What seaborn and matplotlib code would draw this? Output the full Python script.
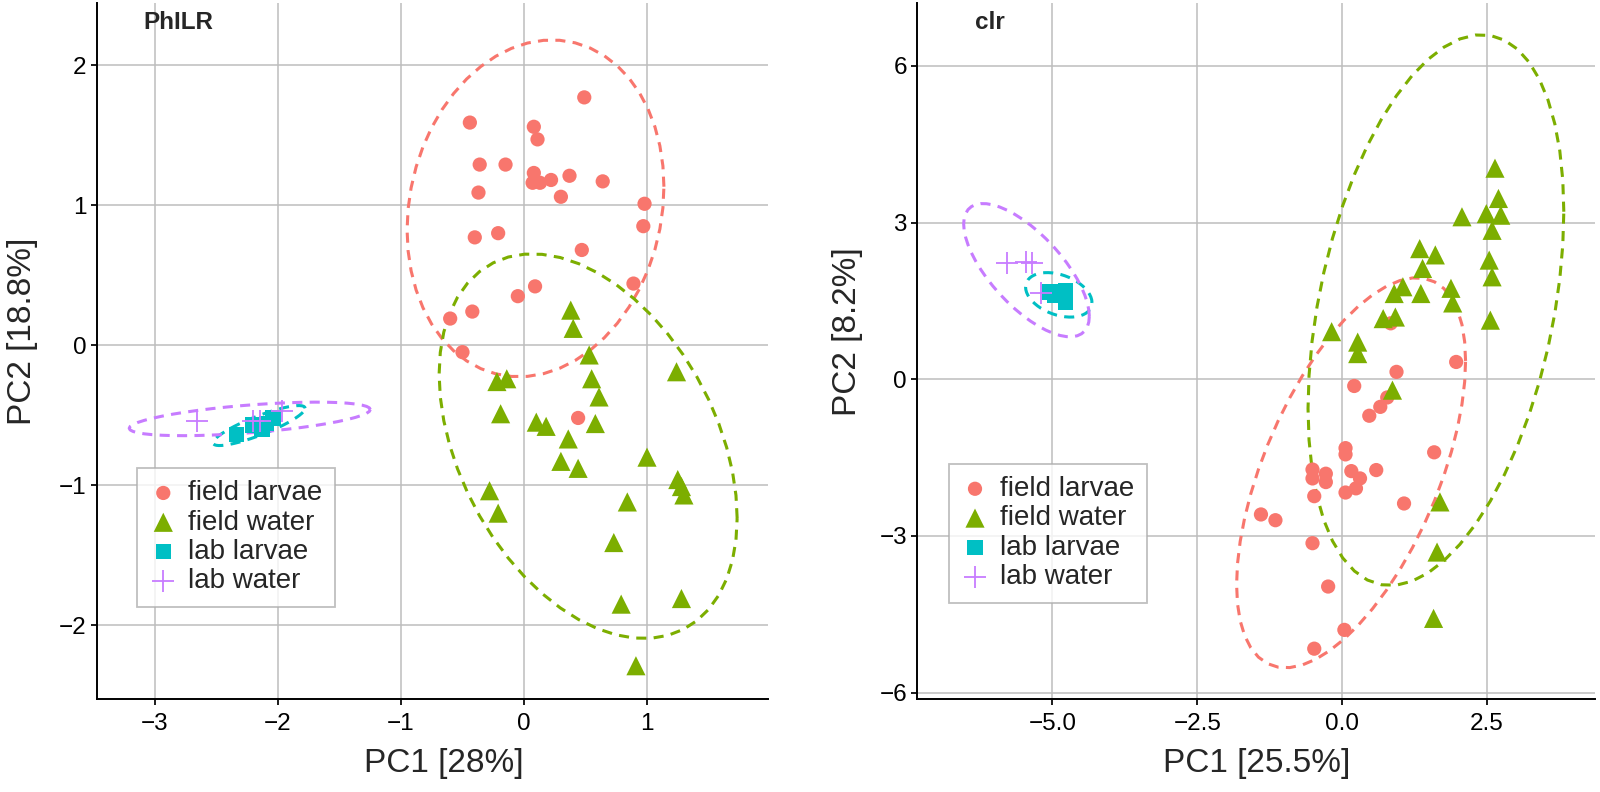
import numpy as np
import pandas as pd
import seaborn as sns
import matplotlib.pyplot as plt

# ---- PhILR panel ----
philr_fl_x = [0.49, -0.44, 0.08, 0.11, -0.36, -0.15, 0.08, 0.07, 0.13, 0.22, 0.37, 0.64, -0.37,
              0.30, 0.98, 0.97, -0.40, -0.21, 0.47, 0.89, 0.09, -0.05, -0.42, -0.60, -0.50, 0.44]
philr_fl_y = [1.77, 1.59, 1.56, 1.47, 1.29, 1.29, 1.23, 1.16, 1.16, 1.18, 1.21, 1.17, 1.09,
              1.06, 1.01, 0.85, 0.77, 0.80, 0.68, 0.44, 0.42, 0.35, 0.24, 0.19, -0.05, -0.52]
philr_fw_x = [0.38, 0.40, 0.53, -0.22, -0.14, 0.55, 0.61, 1.24, -0.19, 0.10, 0.18, 0.58, 0.36,
              0.30, 0.44, 1.00, 1.25, 1.28, 1.30, -0.28, -0.21, 0.84, 0.73, 0.79, 1.28, 0.91]
philr_fw_y = [0.25, 0.12, -0.07, -0.26, -0.24, -0.24, -0.37, -0.19, -0.49, -0.55, -0.58, -0.56, -0.67,
              -0.83, -0.88, -0.80, -0.96, -1.01, -1.07, -1.04, -1.20, -1.12, -1.41, -1.85, -1.81, -2.29]
philr_ll_x = [-2.34, -2.21, -2.13, -2.09, -2.04]
philr_ll_y = [-0.64, -0.57, -0.60, -0.56, -0.52]
philr_lw_x = [-2.66, -2.20, -2.15, -1.97]
philr_lw_y = [-0.54, -0.54, -0.54, -0.47]

# ---- clr panel ----
clr_fl_x = [0.84, 1.97, 0.94, 0.21, 0.78, 0.66, 0.47, 0.06, 0.06, 1.59, -0.51, -0.51, -0.28, -0.28,
            0.16, 0.31, 0.24, 0.06, 0.59, 1.07, -0.48, -1.40, -1.15, -0.51, -0.24, 0.04, -0.48]
clr_fl_y = [1.07, 0.33, 0.14, -0.13, -0.35, -0.53, -0.70, -1.32, -1.44, -1.40, -1.73, -1.90, -1.81, -1.97,
            -1.76, -1.90, -2.09, -2.17, -1.74, -2.38, -2.24, -2.59, -2.70, -3.14, -3.97, -4.80, -5.16]
clr_fw_x = [2.64, 2.70, 2.74, 2.49, 2.07, 2.59, 2.54, 2.59, 2.56, 1.34, 1.61, 1.39, 1.05, 0.90,
            1.36, 1.88, 1.91, 0.71, 0.92, -0.18, 0.27, 0.27, 0.87, 1.69, 1.64, 1.58]
clr_fw_y = [4.04, 3.46, 3.14, 3.17, 3.11, 2.85, 2.28, 1.96, 1.13, 2.50, 2.38, 2.12, 1.77, 1.64,
            1.64, 1.74, 1.46, 1.16, 1.19, 0.91, 0.71, 0.49, -0.21, -2.35, -3.31, -4.58]
clr_ll_x = [-5.04, -4.96, -4.78, -4.78]
clr_ll_y = [1.67, 1.61, 1.70, 1.48]
clr_lw_x = [-5.78, -5.46, -5.36, -5.19]
clr_lw_y = [2.23, 2.25, 2.22, 1.65]

groups = ["field larvae", "field water", "lab larvae", "lab water"]
colors = ["#F8766D", "#7CAE00", "#00BFC4", "#C77CFF"]
markers = ["o", "^", "s", "+"]
sizes = [105, 190, 120, 260]


def make_df(xs, ys):
    rows = []
    for g, x, y in zip(groups, xs, ys):
        rows.append(pd.DataFrame({"PC1": x, "PC2": y, "group": g}))
    return pd.concat(rows, ignore_index=True)


def cov_trob(pts, nu=5, maxit=25, tol=0.01):
    # robust t covariance, same scheme as MASS::cov.trob
    n, p = pts.shape
    wt = np.ones(n)
    loc = pts.mean(axis=0)
    w = np.sqrt(wt)
    for _ in range(maxit):
        w0 = w
        X = pts - loc
        _, d, vt = np.linalg.svd(np.sqrt(w / w.sum())[:, None] * X, full_matrices=False)
        wX = X @ vt.T / d
        Q = (wX ** 2).sum(axis=1)
        w = wt * (nu + p) / (nu + Q)
        loc = (w[:, None] * pts).sum(axis=0) / w.sum()
        if np.all(np.abs(w - w0) < tol):
            break
    cov = (np.sqrt(w)[:, None] * X).T @ (np.sqrt(w)[:, None] * X) / wt.sum()
    return loc, cov


def ellipse(x, y, kind="t", level=0.95, segments=51):
    pts = np.column_stack([x, y])
    n = len(x)
    if kind == "t":
        loc, cov = cov_trob(pts)
    else:
        loc, cov = pts.mean(axis=0), np.cov(pts.T)
    dfd = n - 1
    fq = dfd / 2 * ((1 - level) ** (-2 / dfd) - 1)  # qf(level, 2, dfd)
    r = np.sqrt(2 * fq)
    t = np.linspace(0, 2 * np.pi, segments)
    circ = np.column_stack([np.cos(t), np.sin(t)])
    chol = np.linalg.cholesky(cov).T
    return loc + r * circ @ chol


sns.set_theme(style="whitegrid")
plt.rcParams["font.family"] = ["Liberation Sans", "DejaVu Sans"]
plt.rcParams.update({
    "grid.color": "#bdbdbd", "grid.linewidth": 1.1,
    "axes.edgecolor": "black", "axes.linewidth": 1.4,
    "xtick.bottom": True, "ytick.left": True,
    "xtick.major.size": 4, "ytick.major.size": 4,
    "xtick.color": "black", "ytick.color": "black",
})

fig = plt.figure(figsize=(16, 7.92), dpi=100)
ax1 = fig.add_axes([0.0604, 0.117, 0.4194, 0.879])
ax2 = fig.add_axes([0.5734, 0.117, 0.4236, 0.879])

panels = [
    (ax1, make_df([philr_fl_x, philr_fw_x, philr_ll_x, philr_lw_x],
                  [philr_fl_y, philr_fw_y, philr_ll_y, philr_lw_y]),
     "PhILR", "t", "PC1 [28%]", "PC2 [18.8%]", (-3.474, 1.981), (-2.53, 2.443),
     [-3, -2, -1, 0, 1], [-2, -1, 0, 1, 2], (0.06, 0.133), (-0.0875, 0.518)),
    (ax2, make_df([clr_fl_x, clr_fw_x, clr_ll_x, clr_lw_x],
                  [clr_fl_y, clr_fw_y, clr_ll_y, clr_lw_y]),
     "clr", "norm", "PC1 [25.5%]", "PC2 [8.2%]", (-7.33, 4.37), (-6.13, 7.20),
     [-5, -2.5, 0, 2.5], [-6, -3, 0, 3, 6], (0.046, 0.139), (-0.08, 0.5)),
]

for ax, df, tag, kind, xl, yl, xlim, ylim, xt, yt, legpos, labx in panels:
    for g, c, m, s in zip(groups, colors, markers, sizes):
        sub = df[df["group"] == g]
        if m == "+":
            sns.scatterplot(data=sub, x="PC1", y="PC2", color=c, marker=m, s=s,
                            linewidth=1.3, label=g, ax=ax, zorder=3)
        else:
            sns.scatterplot(data=sub, x="PC1", y="PC2", color=c, marker=m, s=s,
                            edgecolor="none", label=g, ax=ax, zorder=3)
    for g, c in zip(groups, colors):
        sub = df[df["group"] == g]
        e = ellipse(sub["PC1"].to_numpy(), sub["PC2"].to_numpy(), kind=kind)
        ax.plot(e[:, 0], e[:, 1], color=c, lw=2.2, dashes=(3.3, 2.4), zorder=2)
    ax.set_xlim(*xlim)
    ax.set_ylim(*ylim)
    ax.set_xticks(xt)
    ax.set_yticks(yt)
    if tag == "clr":
        ax.set_xticklabels([f"{v:.1f}".replace("-", "\u2212") for v in xt])
    ax.tick_params(labelsize=17.5)
    ax.tick_params(axis="x", pad=6)
    ax.set_xlabel(xl, fontsize=24)
    ax.set_ylabel(yl, fontsize=24)
    ax.xaxis.set_label_coords(labx[1], -0.07)
    ax.yaxis.set_label_coords(labx[0], 0.528)
    for side in ["top", "right"]:
        ax.spines[side].set_visible(False)
    ax.text(0.07 if tag == "PhILR" else 0.085, 0.972, tag, transform=ax.transAxes,
            fontsize=17.5, fontweight="bold", va="center", ha="left")
    leg = ax.legend(loc="lower left", bbox_to_anchor=legpos, fontsize=20, frameon=True,
                    fancybox=False, borderpad=0.45, labelspacing=0.12, handletextpad=0.4,
                    handlelength=1.0, borderaxespad=0)
    leg.get_frame().set_edgecolor("#b0b0b0")
    leg.get_frame().set_linewidth(1.3)

fig.savefig("out.png", dpi=100)
